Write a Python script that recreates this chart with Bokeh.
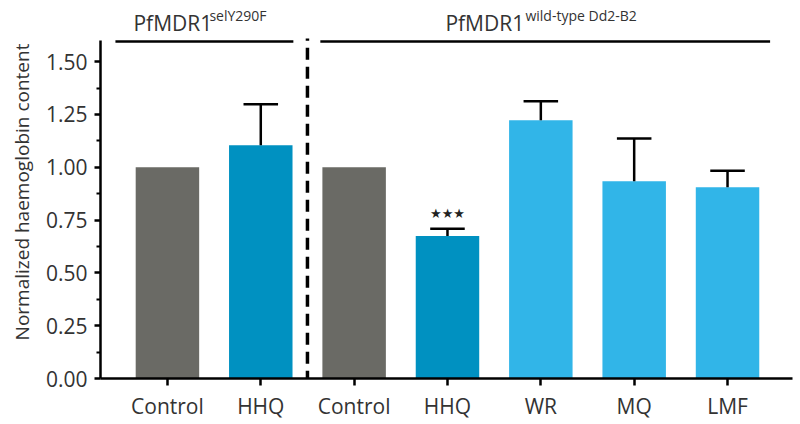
from bokeh.plotting import figure
from bokeh.models import ColumnDataSource, Range1d, FixedTicker
from bokeh.core.properties import value
from bokeh.embed import file_html
from bokeh.resources import INLINE

# ---- data ----
categories = ["Control", "HHQ", "Control", "HHQ", "WR", "MQ", "LMF"]
means = [1.00, 1.104, 1.00, 0.674, 1.223, 0.934, 0.905]
upper = [1.00, 1.298, 1.00, 0.709, 1.313, 1.136, 0.984]
colors = ["#6a6a65", "#0091c1", "#6a6a65", "#0091c1", "#31b5e8", "#31b5e8", "#31b5e8"]
significance = ["", "", "", "\u2605\u2605\u2605", "", "", ""]
y_ticks = [0.0, 0.25, 0.50, 0.75, 1.00, 1.25, 1.50]
y_tick_labels = ["0.00", "0.25", "0.50", "0.75", "1.00", "1.25", "1.50"]
y_minor = [0.125, 0.375, 0.625, 0.875, 1.125, 1.375]
group_main = ["PfMDR1", "PfMDR1"]
group_sup = ["selY290F", "wild-type Dd2-B2"]

FONT = "Open Sans"
TXT = "#333333"
Y_TOP = 1.6

xs = list(range(len(categories)))

p = figure(output_backend="svg", toolbar_location=None,
           frame_width=692, frame_height=373,
           min_border_left=100, min_border_right=8,
           min_border_top=5, min_border_bottom=46,
           x_range=Range1d(-0.717, 6.696), y_range=Range1d(0, 1.7657),
           background_fill_color="white", border_fill_color="white")
p.outline_line_color = None
p.xgrid.visible = False
p.ygrid.visible = False

src = ColumnDataSource(dict(x=xs, top=means, color=colors))
p.vbar(x="x", top="top", bottom=0, width=0.68, fill_color="color", line_color=None, source=src)

# error bars (upper only)
ex = [x for x, m, u in zip(xs, means, upper) if u > m]
em = [m for m, u in zip(means, upper) if u > m]
eu = [u for m, u in zip(means, upper) if u > m]
p.segment(x0=ex, y0=em, x1=ex, y1=eu, line_color="black", line_width=2.5)
p.segment(x0=[x - 0.185 for x in ex], y0=eu, x1=[x + 0.185 for x in ex], y1=eu,
          line_color="black", line_width=2.5)

# significance stars
sx = [x for x, s in zip(xs, significance) if s]
sy = [u + 0.072 for u, s in zip(upper, significance) if s]
st = [s for s in significance if s]
p.text(x=sx, y=sy, text=st, text_align="center", text_baseline="middle",
       text_font=value("DejaVu Sans"), text_font_size="13px", text_color="#222222")

# divider and group brackets
p.segment(x0=[1.5], y0=[-0.02], x1=[1.5], y1=[1.61], line_color="black",
          line_width=3.5, line_dash="12 7")
p.segment(x0=[-0.557, 1.638], y0=[1.595, 1.595], x1=[1.349, 6.456], y1=[1.595, 1.595],
          line_color="black", line_width=2.5)

# group titles with superscripts
p.text(x=[-0.364, 2.978], y=[1.685, 1.685], text=group_main, text_baseline="alphabetic",
       text_font=value(FONT), text_font_size="21px", text_color=TXT)
p.text(x=[0.45, 3.835], y=[1.716, 1.716], text=group_sup, text_baseline="alphabetic",
       text_font=value(FONT), text_font_size="14px", text_color=TXT)

# axes
xa = p.xaxis[0]
xa.ticker = FixedTicker(ticks=xs, minor_ticks=[])
xa.major_label_overrides = {i: c for i, c in enumerate(categories)}
xa.axis_line_width = 2.5
xa.major_tick_line_width = 2.5
xa.major_tick_out = 7
xa.major_tick_in = 0
xa.minor_tick_line_color = None
xa.major_label_text_font = FONT
xa.major_label_text_font_size = "21px"
xa.major_label_text_color = TXT
xa.major_label_standoff = 6

ya = p.yaxis[0]
ya.bounds = (0, Y_TOP)
ya.ticker = FixedTicker(ticks=y_ticks, minor_ticks=y_minor)
ya.major_label_overrides = {t: l for t, l in zip(y_ticks, y_tick_labels)}
ya.axis_line_width = 2.5
ya.major_tick_line_width = 2.5
ya.major_tick_out = 6
ya.major_tick_in = 0
ya.minor_tick_line_width = 2
ya.minor_tick_out = 4
ya.minor_tick_in = 0
ya.major_label_text_font = FONT
ya.major_label_text_font_size = "21px"
ya.major_label_text_color = TXT
ya.major_label_standoff = 7
ya.axis_label = "Normalized haemoglobin content"
ya.axis_label_text_font = FONT
ya.axis_label_text_font_size = "19px"
ya.axis_label_text_font_style = "normal"
ya.axis_label_text_color = TXT
ya.axis_label_standoff = 8

open("out.html", "w").write(file_html(p, INLINE))
